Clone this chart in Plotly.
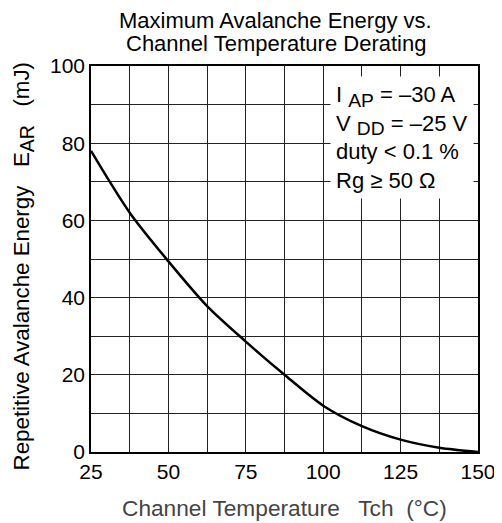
import plotly.graph_objects as go

# Data
temp_c = [25, 37.5, 50, 62.5, 75, 87.5, 100, 112.5, 125, 137.5, 150]
energy_mj = [78, 62, 49.4, 37.8, 28.6, 20, 12, 6.7, 3.2, 1.1, 0]

x_tick_vals = [25, 37.5, 50, 62.5, 75, 87.5, 100, 112.5, 125, 137.5, 150]
x_tick_text = ["25", "", "50", "", "75", "", "100", "", "125", "", "150"]
y_tick_vals = [0, 10, 20, 30, 40, 50, 60, 70, 80, 90, 100]
y_tick_text = ["0", "", "20", "", "40", "", "60", "", "80", "", "100"]

title_lines = ["Maximum Avalanche Energy vs.", "Channel Temperature Derating"]

font_family = "Liberation Sans, Arial, sans-serif"
big_sub = '<sub><span style="font-size:125%">{}</span></sub>'

fig = go.Figure()
fig.add_trace(go.Scatter(
    x=temp_c, y=energy_mj, mode="lines",
    line=dict(color="black", width=2.5, shape="spline", smoothing=0.8),
    showlegend=False, hoverinfo="skip",
))

axis_common = dict(
    showline=True, linecolor="black", linewidth=1.5, mirror=True,
    showgrid=True, gridcolor="#222222", gridwidth=1,
    zeroline=False, ticks="", automargin=False,
    tickfont=dict(size=21, color="black", family=font_family),
)

fig.update_xaxes(
    range=[25, 150], tickmode="array", tickvals=x_tick_vals, ticktext=x_tick_text,
    **axis_common,
)
fig.update_yaxes(
    range=[0, 100], tickmode="array", tickvals=y_tick_vals, ticktext=y_tick_text,
    **axis_common,
)

# Axis titles
fig.add_annotation(
    xref="paper", yref="paper", x=0.50, y=-0.145, xanchor="center", yanchor="middle",
    showarrow=False, text="Channel Temperature   Tch  (°C)",
    font=dict(size=22.7, color="#444444", family=font_family),
)
fig.add_annotation(
    xref="paper", yref="paper", x=-0.172, y=0.482, xanchor="center", yanchor="middle",
    showarrow=False, textangle=-90,
    text="Repetitive Avalanche Energy   E" + big_sub.format("AR") + "   (mJ)",
    font=dict(size=22.3, color="black", family=font_family),
)

# Chart title (two lines)
for line_text, ypos in zip(title_lines, [1.117, 1.059]):
    fig.add_annotation(
        xref="paper", yref="paper", x=0.478, y=ypos, xanchor="center", yanchor="middle",
        showarrow=False, text=line_text,
        font=dict(size=22, color="black", family=font_family),
    )

# Conditions box
fig.add_annotation(
    xref="paper", yref="paper", x=0.618, y=0.975, xanchor="left", yanchor="top",
    align="left", showarrow=False, bgcolor="white", borderpad=5,
    text="I " + big_sub.format("AP") + " = –30 A<br>V " + big_sub.format("DD")
         + " = –25 V<br>duty < 0.1 %<br>Rg ≥ 50 Ω",
    font=dict(size=22, color="black", family=font_family),
)

# The page adds an 8 px body margin, so the figure is made 8 px smaller
fig.update_layout(
    width=494, height=515,
    margin=dict(l=83, r=24, t=58, b=71),
    paper_bgcolor="white", plot_bgcolor="white",
)

fig.write_html("out.html")
